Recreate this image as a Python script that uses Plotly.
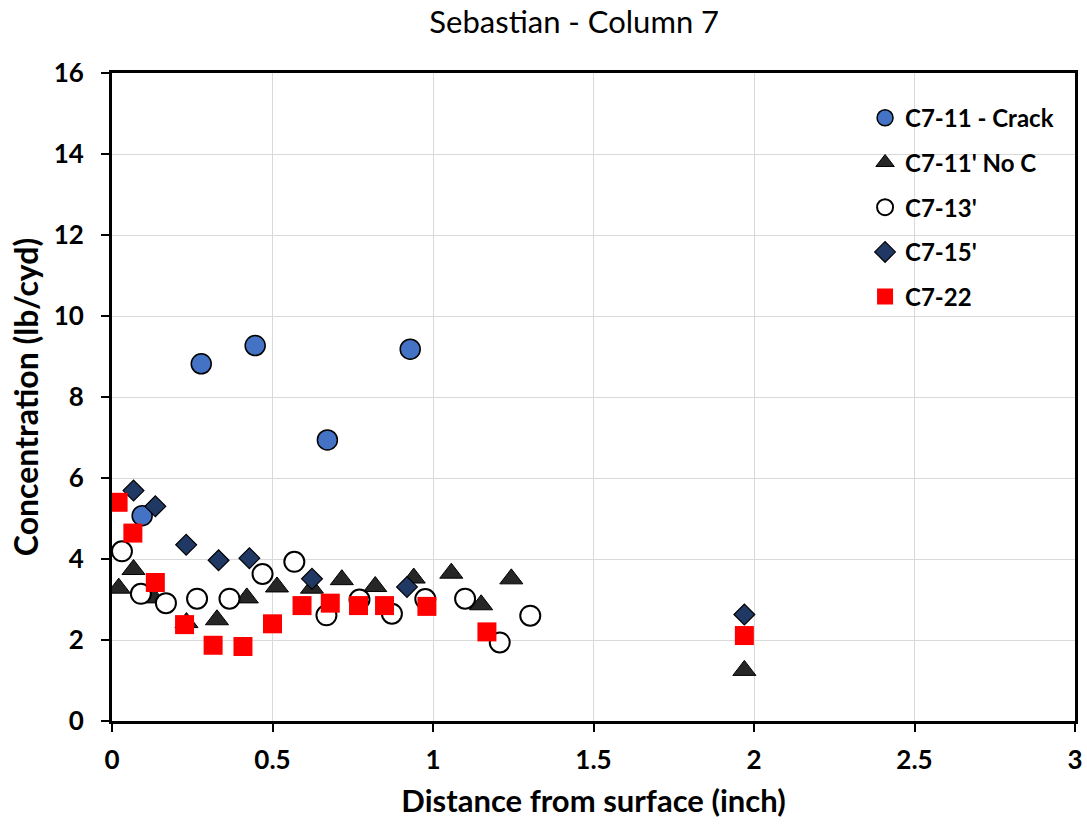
import plotly.graph_objects as go

# C7-11 - Crack
crack_x = [0.094, 0.278, 0.446, 0.671, 0.929]
crack_y = [5.07, 8.82, 9.27, 6.94, 9.18]

# C7-11' No C
noc_x = [0.021, 0.067, 0.13, 0.232, 0.327, 0.42, 0.514, 0.623, 0.716, 0.82, 0.94, 1.057, 1.15, 1.244, 1.97]
noc_y = [3.28, 3.74, 3.04, 2.43, 2.50, 3.04, 3.31, 3.28, 3.49, 3.32, 3.53, 3.65, 2.87, 3.51, 1.25]

# C7-13'
c13_x = [0.031, 0.090, 0.168, 0.265, 0.366, 0.469, 0.568, 0.668, 0.771, 0.872, 0.976, 1.10, 1.208, 1.303]
c13_y = [4.19, 3.14, 2.91, 3.02, 3.02, 3.63, 3.93, 2.61, 3.00, 2.65, 3.01, 3.02, 1.94, 2.60]

# C7-15'
c15_x = [0.067, 0.135, 0.231, 0.332, 0.428, 0.623, 0.919, 1.97]
c15_y = [5.69, 5.30, 4.35, 3.97, 4.02, 3.51, 3.31, 2.63]

# C7-22
c22_x = [0.019, 0.065, 0.135, 0.226, 0.315, 0.408, 0.50, 0.592, 0.68, 0.768, 0.849, 0.981, 1.168, 1.97]
c22_y = [5.40, 4.64, 3.42, 2.38, 1.87, 1.84, 2.40, 2.85, 2.91, 2.85, 2.85, 2.83, 2.20, 2.11]

x_ticks = [0, 0.5, 1, 1.5, 2, 2.5, 3]
x_tick_labels = ["0", "0.5", "1", "1.5", "2", "2.5", "3"]
y_ticks = [0, 2, 4, 6, 8, 10, 12, 14, 16]

FONT = "Lato, 'Open Sans', sans-serif"

fig = go.Figure()
fig.add_trace(go.Scatter(x=crack_x, y=crack_y, mode="markers", name="C7-11 - Crack",
                         legendgroup="a",
                         marker=dict(symbol="circle", size=20, color="#4472C4",
                                     line=dict(color="#000000", width=1.5))))
fig.add_trace(go.Scatter(x=noc_x, y=noc_y, mode="markers", name="C7-11' No C",
                         legendgroup="b",
                         marker=dict(symbol="triangle-up", size=20, color="#262626",
                                     line=dict(color="#000000", width=1))))
fig.add_trace(go.Scatter(x=c13_x, y=c13_y, mode="markers", name="C7-13'",
                         legendgroup="c",
                         marker=dict(symbol="circle", size=20, color="#FFFFFF",
                                     line=dict(color="#000000", width=2))))
fig.add_trace(go.Scatter(x=c15_x, y=c15_y, mode="markers", name="C7-15'",
                         legendgroup="d",
                         marker=dict(symbol="diamond", size=16, color="#203864",
                                     line=dict(color="#000000", width=1.2))))
fig.add_trace(go.Scatter(x=c22_x, y=c22_y, mode="markers", name="C7-22",
                         legendgroup="e",
                         marker=dict(symbol="square", size=19, color="#FF0000",
                                     line=dict(color="#FF0000", width=0))))

fig.update_layout(
    width=1087, height=825,
    paper_bgcolor="white", plot_bgcolor="white",
    margin=dict(l=112, r=12, t=73, b=104, autoexpand=False),
    font=dict(family=FONT, color="#000000"),
    title=dict(text="Sebastian - Column 7", x=0.48, xanchor="center",
               xref="paper", y=0.973, yanchor="middle", yref="container",
               automargin=False,
               font=dict(family=FONT, size=31, color="#000000")),
    showlegend=True,
    legend=dict(x=0.782, y=0.965, xanchor="left", yanchor="top",
                bgcolor="rgba(0,0,0,0)", traceorder="grouped",
                tracegroupgap=10.5,
                font=dict(family=FONT, size=24, color="#000000", weight="bold")),
    xaxis=dict(range=[0, 3], tickvals=x_ticks, ticktext=x_tick_labels,
               automargin=False,
               showgrid=True, gridcolor="#D9D9D9", gridwidth=1,
               showline=True, linecolor="#000000", linewidth=3, mirror=True,
               ticks="outside", ticklen=8, tickwidth=2, tickcolor="#000000",
               ticklabelstandoff=6,
               zeroline=False,
               tickfont=dict(family=FONT, size=26, color="#000000", weight="bold"),
               title=dict(text="Distance from surface (inch)", standoff=17,
                          font=dict(family=FONT, size=31, color="#000000", weight="bold"))),
    yaxis=dict(range=[0, 16], tickvals=y_ticks,
               automargin=False,
               showgrid=True, gridcolor="#D9D9D9", gridwidth=1,
               showline=True, linecolor="#000000", linewidth=3, mirror=True,
               ticks="outside", ticklen=8, tickwidth=2, tickcolor="#000000",
               ticklabelstandoff=12,
               zeroline=False,
               tickfont=dict(family=FONT, size=26, color="#000000", weight="bold"),
               title=dict(text="Concentration (lb/cyd)", standoff=6,
                          font=dict(family=FONT, size=32, color="#000000", weight="bold"))),
)

fig.write_html("out.html", config={"displayModeBar": False},
               post_script="document.body.style.margin='0';")
